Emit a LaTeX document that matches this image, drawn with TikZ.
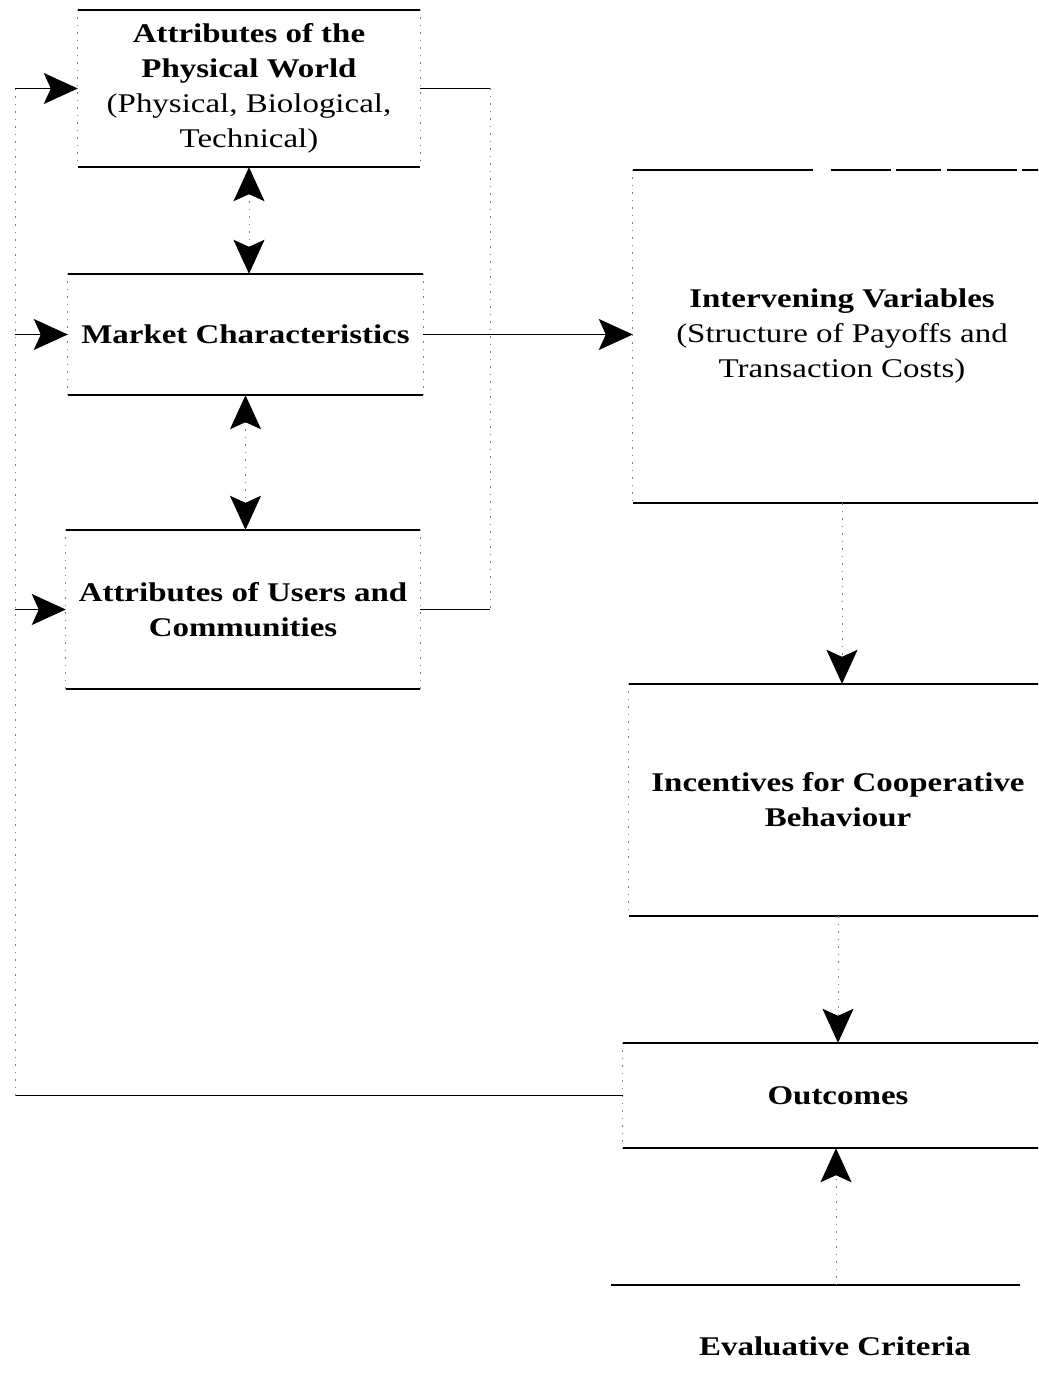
\documentclass[tikz,border=0pt]{standalone}
\usepackage{fontspec}
\setmainfont{Liberation Serif}[FakeStretch=1.22]
\usetikzlibrary{arrows.meta}
\begin{document}
\begin{tikzpicture}[x=1pt,y=-1pt,
  hline/.style={line width=1.6pt, black},
  vline/.style={line width=0.9pt, black!50, dash pattern=on 1.5pt off 6pt},
  tip/.style={-{Stealth[length=34pt,width=31pt,inset=7pt,black]}},
  both/.style={{Stealth[length=34pt,width=31pt,inset=7pt,black]}-{Stealth[length=34pt,width=31pt,inset=7pt,black]}},
  box/.style={rectangle, inner sep=0pt, align=center, font=\fontsize{27}{35}\selectfont},
]
\path[use as bounding box, clip] (0,0) rectangle (1038,1399);

% left column
\node[box, minimum width=342pt, minimum height=157pt] (b1) at (249,88.5)
  {\textbf{Attributes of the}\\\textbf{Physical World}\\(Physical, Biological,\\Technical)};
\node[box, minimum width=355pt, minimum height=121pt] (b2) at (245.5,334.5)
  {\textbf{Market Characteristics}};
\node[box, minimum width=354pt, minimum height=159pt] (b3) at (243,609.5)
  {\textbf{Attributes of Users and}\\\textbf{Communities}};

% right column
\node[box, minimum width=418pt, minimum height=333pt] (iv) at (842,336.5)
  {\textbf{Intervening Variables}\\(Structure of Payoffs and\\Transaction Costs)};
\node[box, minimum width=418pt, minimum height=232pt] (inc) at (838,800)
  {\textbf{Incentives for Cooperative}\\\textbf{Behaviour}};
\node[box, minimum width=430pt, minimum height=105pt] (out) at (838,1095.5)
  {\textbf{Outcomes}};
\node[box] (ev) at (835,1346) {\textbf{Evaluative Criteria}};
\coordinate (evl) at (611,1285);
\coordinate (evr) at (1020,1285);
\coordinate (evtop) at (836,1285);

% box edges: solid top/bottom, faint sides
\foreach \n in {b1,b2,b3,inc,out} {
  \draw[hline] (\n.north west) -- (\n.north east);
  \draw[hline] (\n.south west) -- (\n.south east);
  \draw[vline] (\n.north west) -- (\n.south west);
  \draw[vline] (\n.north east) -- (\n.south east);
}
\draw[hline, dash pattern=on 180pt off 18pt on 60pt off 5pt on 45pt off 6pt on 70pt off 5pt]
  (iv.north west) -- (iv.north east);
\draw[hline] (iv.south west) -- (iv.south east);
\draw[vline] (iv.north west) -- (iv.south west);
\draw[hline] (evl) -- (evr);

% vertical arrows
\draw[vline, both] (b1.south) -- (b1.south |- b2.north);
\draw[vline, both] (b2.south) -- (b2.south |- b3.north);
\draw[vline, tip] (iv.south) -- (iv.south |- inc.north);
\draw[vline, tip] (inc.south) -- (inc.south |- out.north);
\draw[vline, tip] (evtop) -- (evtop |- out.south);

% market -> intervening
\draw[hline, tip] (b2.east) -- (b2.east -| iv.west);

% right bracket
\coordinate (rx) at (490,0);
\draw[hline] (b1.east) -- (b1.east -| rx);
\draw[vline] (b1.east -| rx) -- (b3.east -| rx);
\draw[hline] (b3.east) -- (b3.east -| rx);

% feedback loop
\coordinate (lb) at (15,1095.5);
\draw[hline] (out.west) -- (lb);
\draw[vline] (lb) -- (lb |- b1.west);
\draw[hline, tip] (lb |- b1.west) -- (b1.west);
\draw[hline, tip] (lb |- b2.west) -- (b2.west);
\draw[hline, tip] (lb |- b3.west) -- (b3.west);
\end{tikzpicture}
\end{document}
